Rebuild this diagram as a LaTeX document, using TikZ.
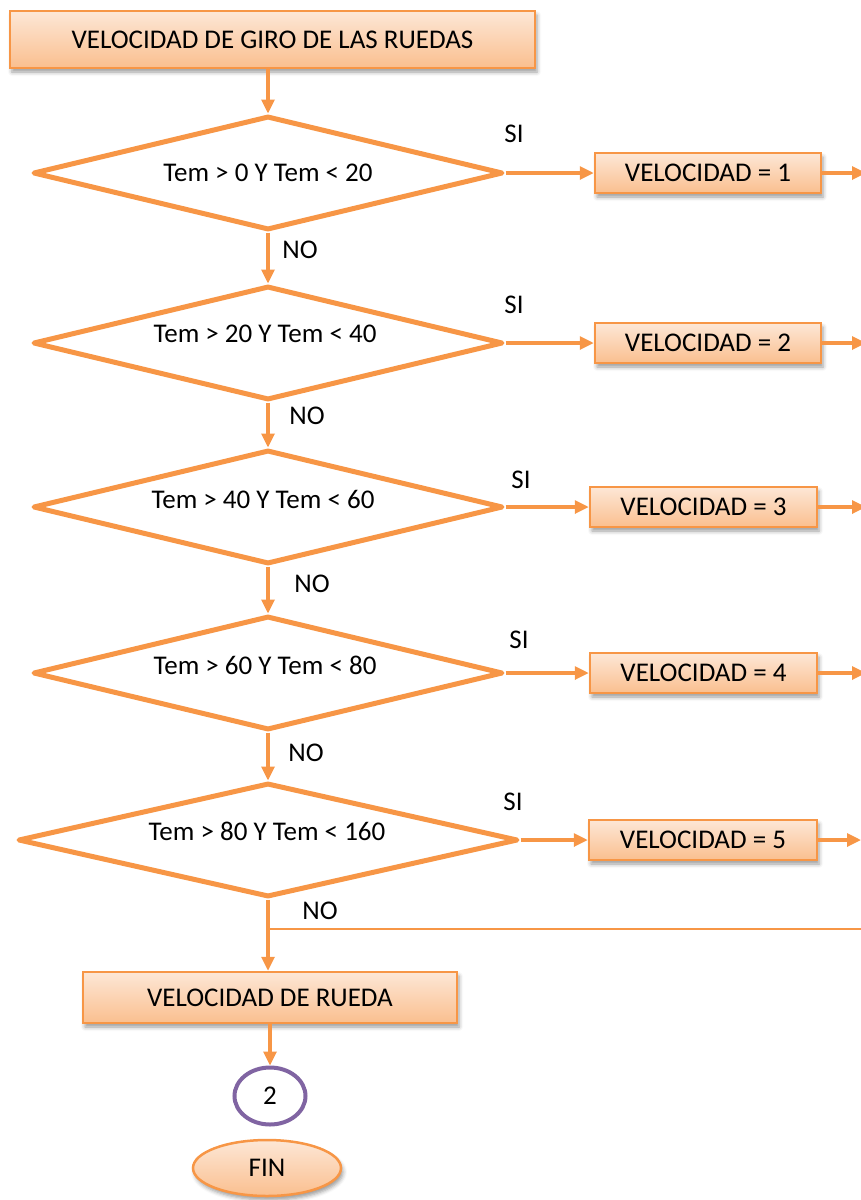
\documentclass[tikz,border=0pt]{standalone}
\usepackage{fontspec}
\setmainfont{Carlito}
\usetikzlibrary{shapes.geometric,arrows.meta,shadows.blur}
\definecolor{flow}{HTML}{F79646}
\definecolor{boxtop}{RGB}{253,231,214}
\definecolor{boxbot}{RGB}{250,191,143}
\definecolor{connector}{HTML}{8064A2}
\begin{document}
\begin{tikzpicture}[x=1pt,y=-1pt,
  every node/.style={font=\fontsize{27}{32}\selectfont, text=black},
  boxshade/.style={draw=flow, line width=2.5pt, top color=boxtop, bottom color=boxbot,
    inner sep=0pt,
    blur shadow={shadow xshift=2pt, shadow yshift=-4pt, shadow blur radius=4pt, shadow opacity=40}},
  procbox/.style={rectangle, boxshade},
  decision/.style={diamond, draw=flow, line width=5pt, line join=round, fill=white,
    inner sep=0pt, minimum width=470pt, minimum height=114pt},
  flowarrow/.style={draw=flow, line width=3.2pt, -{Triangle[length=14pt,width=13pt]}},
  flowline/.style={draw=flow, line width=2.8pt},
  tag/.style={inner sep=0pt}
]
\useasboundingbox (0,0) rectangle (861,1200);

% start box
\node[procbox, minimum width=525pt, minimum height=57pt] (start) at (272.5,39.5)
  {VELOCIDAD DE GIRO DE LAS RUEDAS};

% decision chain
\node[decision] (d1) at (268,173) {};
\node[decision] (d2) at (268,343) {};
\node[decision] (d3) at (268,507) {};
\node[decision] (d4) at (268,673) {};
\node[decision, minimum width=500pt] (d5) at (268,840) {};

\node[tag] (q1) at (268,173) {Tem > 0 Y Tem < 20};
\node[tag] (q2) at (265,334) {Tem > 20 Y Tem < 40};
\node[tag] (q3) at (263,499) {Tem > 40 Y Tem < 60};
\node[tag] (q4) at (265,665) {Tem > 60 Y Tem < 80};
\node[tag] (q5) at (267,831) {Tem > 80 Y Tem < 160};

% result boxes
\node[procbox, minimum width=226pt, minimum height=40pt] (v1) at (708,173) {VELOCIDAD = 1};
\node[procbox, minimum width=226pt, minimum height=40pt] (v2) at (708,343) {VELOCIDAD = 2};
\node[procbox, minimum width=227pt, minimum height=40pt] (v3) at (703.5,507) {VELOCIDAD = 3};
\node[procbox, minimum width=227pt, minimum height=40pt] (v4) at (703.5,673) {VELOCIDAD = 4};
\node[procbox, minimum width=228pt, minimum height=40pt] (v5) at (703,840) {VELOCIDAD = 5};

% branch labels
\node[tag] (si1) at (514,134) {SI};
\node[tag] (si2) at (514,305) {SI};
\node[tag] (si3) at (521,480) {SI};
\node[tag] (si4) at (519,640) {SI};
\node[tag] (si5) at (513,802) {SI};
\node[tag] (no1) at (300,250) {NO};
\node[tag] (no2) at (307,416) {NO};
\node[tag] (no3) at (312,584) {NO};
\node[tag] (no4) at (306,753) {NO};
\node[tag] (no5) at (320,911) {NO};

% final steps
\node[procbox, minimum width=374pt, minimum height=51pt] (rueda) at (270,997.5) {VELOCIDAD DE RUEDA};
\node[ellipse, draw=connector, line width=4pt, fill=white, inner sep=0pt,
  minimum width=71pt, minimum height=57pt] (c2) at (270,1096) {2};
\node[ellipse, boxshade, minimum width=148pt, minimum height=56pt] (fin) at (267,1168) {FIN};

% free ends at the right margin
\coordinate (e1) at (866,173);
\coordinate (e2) at (866,343);
\coordinate (e3) at (866,507);
\coordinate (e4) at (866,673);
\coordinate (e5) at (861,840);
\coordinate (nojoin) at (268,929);
\coordinate (noend) at (861,929);

% main column
\draw[flowarrow] (start.south -| d1.north) -- (d1.north);
\draw[flowarrow] (d1.south) -- (d2.north);
\draw[flowarrow] (d2.south) -- (d3.north);
\draw[flowarrow] (d3.south) -- (d4.north);
\draw[flowarrow] (d4.south) -- (d5.north);
\draw[flowarrow] (d5.south) -- (d5.south |- rueda.north);
\draw[flowline] (nojoin) -- (noend);
\draw[flowarrow] (rueda.south -| c2.north) -- (c2.north);

% yes branches
\foreach \i in {1,...,5}{
  \draw[flowarrow] (d\i.east) -- (v\i.west);
  \draw[flowarrow] (v\i.east) -- (e\i);
}
\end{tikzpicture}
\end{document}
